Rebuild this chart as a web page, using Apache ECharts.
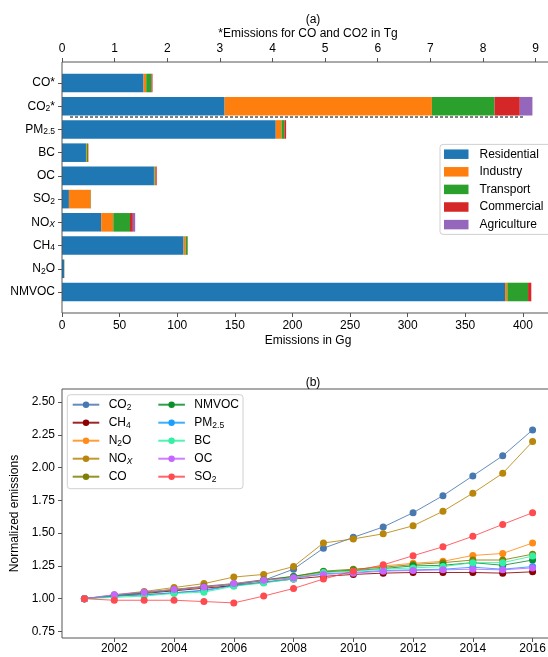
<!DOCTYPE html>
<html><head><meta charset="utf-8">
<script src="https://cdn.jsdelivr.net/npm/echarts@6.0.0/dist/echarts.min.js"></script>
<style>html,body{margin:0;padding:0;background:#fff}#c{width:548px;height:657px}</style>
</head><body><div id="c"></div>
<script>
// ---------- (a) sector emissions ----------
const sectors = ['Residential', 'Industry', 'Transport', 'Commercial', 'Agriculture'];
const sectorColors = ['#1f77b4', '#ff7f0e', '#2ca02c', '#d62728', '#9467bd'];
const barCategories = ['CO*', 'CO2*', 'PM2.5', 'BC', 'OC', 'SO2', 'NOx', 'CH4', 'N2O', 'NMVOC'];
// CO, CO2 in Tg (top axis)
const residentialTg = [1.55, 3.09];
const industryTg    = [0.05, 3.94];
const transportTg   = [0.10, 1.19];
const commercialTg  = [0.02, 0.48];
const agricultureTg = [0.00, 0.24];
// PM2.5, BC, OC, SO2, NOx, CH4, N2O, NMVOC in Gg (bottom axis)
const residentialGg = [185.5, 20.8, 79.8, 6.0, 34.0, 105.5, 1.9, 384.5];
const industryGg    = [5.0, 0.8, 0.6, 18.8, 10.5, 1.8, 0.1, 2.0];
const transportGg   = [2.5, 1.0, 0.8, 0.3, 14.5, 1.7, 0.1, 18.0];
const commercialGg  = [1.5, 0.3, 1.0, 0.1, 2.5, 0.2, 0.0, 2.8];
const agricultureGg = [0.0, 0.0, 0.0, 0.0, 2.0, 0.0, 0.0, 0.0];
const ggTicks = [0, 50, 100, 150, 200, 250, 300, 350, 400];
const tgTicks = [0, 1, 2, 3, 4, 5, 6, 7, 8, 9];

// ---------- (b) normalized trends ----------
const years = [2001,2002,2003,2004,2005,2006,2007,2008,2009,2010,2011,2012,2013,2014,2015,2016];
const yearTicks = [2002, 2004, 2006, 2008, 2010, 2012, 2014, 2016];
const normTicks = [0.75, 1.00, 1.25, 1.50, 1.75, 2.00, 2.25, 2.50];
const co2   = [1.00,1.02,1.03,1.045,1.065,1.105,1.14,1.225,1.385,1.468,1.547,1.656,1.786,1.937,2.09,2.288];
const ch4   = [1.00,1.02,1.04,1.06,1.08,1.10,1.125,1.15,1.17,1.185,1.195,1.20,1.20,1.20,1.195,1.205];
const n2o   = [1.00,1.02,1.045,1.07,1.09,1.11,1.14,1.16,1.20,1.22,1.25,1.27,1.285,1.33,1.345,1.425];
const nox   = [1.00,1.03,1.055,1.085,1.115,1.165,1.185,1.245,1.425,1.456,1.495,1.556,1.667,1.805,1.957,2.199];
const co    = [1.00,1.025,1.05,1.07,1.095,1.115,1.145,1.17,1.21,1.225,1.24,1.26,1.275,1.295,1.295,1.34];
const nmvoc = [1.00,1.02,1.045,1.065,1.09,1.11,1.14,1.17,1.205,1.215,1.23,1.25,1.255,1.275,1.255,1.295];
const pm25  = [1.00,1.02,1.03,1.045,1.06,1.10,1.125,1.155,1.19,1.20,1.215,1.22,1.225,1.24,1.225,1.245];
const bc    = [1.00,1.01,1.02,1.04,1.05,1.095,1.12,1.15,1.20,1.21,1.225,1.235,1.245,1.275,1.275,1.325];
const oc    = [1.00,1.03,1.05,1.07,1.09,1.115,1.14,1.16,1.185,1.195,1.21,1.215,1.22,1.225,1.22,1.235];
const so2   = [1.00,0.988,0.988,0.988,0.978,0.968,1.02,1.078,1.15,1.21,1.258,1.328,1.396,1.476,1.567,1.656];
const trendNames  = ['CO2','CH4','N2O','NOx','CO','NMVOC','PM2.5','BC','OC','SO2'];
const trendValues = [co2, ch4, n2o, nox, co, nmvoc, pm25, bc, oc, so2];
const trendColors = ['#4878b0','#8b0000','#ff8c1a','#b8860b','#808000','#0a8f2a','#1a9fff','#33f0a5','#c466ff','#ff4a50'];

const richText = {
  'CO*':'CO*', 'CO2*':'CO{s|2}*', 'PM2.5':'PM{s|2.5}', 'BC':'BC', 'OC':'OC', 'SO2':'SO{s|2}',
  'NOx':'NO{si|X}', 'CH4':'CH{s|4}', 'N2O':'N{s|2}O', 'NMVOC':'NMVOC', 'CO2':'CO{s|2}', 'CO':'CO'
};
const FONT = 'Liberation Sans, Arial, sans-serif';
const rich = {
  s:  {fontSize: 8.5, lineHeight: 7, verticalAlign: 'bottom', fontFamily: FONT, color: '#000'},
  si: {fontSize: 8.5, lineHeight: 7, verticalAlign: 'bottom', fontFamily: FONT, fontStyle: 'italic', color: '#000'}
};
const AX = '#555';

const nGg = residentialGg.length, nTg = residentialTg.length;
const blanks = k => Array(k).fill('-');
const tgSets = [residentialTg, industryTg, transportTg, commercialTg, agricultureTg];
const ggSets = [residentialGg, industryGg, transportGg, commercialGg, agricultureGg];

const series = [];
sectors.forEach((name, i) => {
  series.push({
    name, type: 'bar', stack: 'gg', xAxisIndex: 0, yAxisIndex: 0,
    barWidth: '80%', barGap: '-100%',
    itemStyle: {color: sectorColors[i]},
    data: blanks(nTg).concat(ggSets[i])
  });
});
sectors.forEach((name, i) => {
  series.push({
    name, type: 'bar', stack: 'tg', xAxisIndex: 1, yAxisIndex: 0,
    barWidth: '80%', barGap: '-100%',
    itemStyle: {color: sectorColors[i]},
    data: tgSets[i].concat(blanks(nGg))
  });
});
trendNames.forEach((name, i) => {
  series.push({
    name, type: 'line', xAxisIndex: 3, yAxisIndex: 2,
    symbol: 'circle', symbolSize: 7,
    itemStyle: {color: trendColors[i]},
    lineStyle: {width: 1, color: trendColors[i], opacity: 0.85},
    data: years.map((y, j) => [y, trendValues[i][j]])
  });
});

const tickLab = {fontSize: 12, color: '#000', fontFamily: FONT};

const option = {
  animation: false,
  backgroundColor: '#fff',
  textStyle: {fontFamily: FONT},
  title: [
    {text: '(a)', left: 308, top: 9, textAlign: 'center', textStyle: {fontSize: 12, fontWeight: 'normal', color: '#000', fontFamily: FONT}},
    {text: '(b)', left: 308, top: 372, textAlign: 'center', textStyle: {fontSize: 12, fontWeight: 'normal', color: '#000', fontFamily: FONT}}
  ],
  grid: [
    {left: 62, width: 492, top: 71.4, height: 232.2, containLabel: false, outerBoundsMode: 'none'},
    {left: 62, width: 492, top: 62, height: 251, show: true, borderColor: AX, borderWidth: 1, backgroundColor: 'transparent', z: 3, outerBoundsMode: 'none'},
    {left: 62, width: 493, top: 389, height: 249, show: true, borderColor: AX, borderWidth: 1, backgroundColor: 'transparent', outerBoundsMode: 'none'}
  ],
  xAxis: [
    {type: 'value', gridIndex: 0, position: 'bottom', offset: 9.4, min: 0, max: 427, interval: 50,
     axisLine: {show: false}, splitLine: {show: false},
     axisTick: {show: true, length: 4, lineStyle: {color: AX}, customValues: ggTicks},
     axisLabel: {...tickLab, margin: 7, customValues: ggTicks, formatter: v => (ggTicks.includes(v) ? String(v) : '')},
     name: 'Emissions in Gg', nameLocation: 'middle', nameGap: 22,
     nameTextStyle: {fontSize: 12, color: '#000', fontFamily: FONT}},
    {type: 'value', gridIndex: 0, position: 'top', offset: 9.4, min: 0, max: 9.35, interval: 1,
     axisLine: {show: false}, splitLine: {show: false},
     axisTick: {show: true, length: 4, lineStyle: {color: AX}, customValues: tgTicks},
     axisLabel: {...tickLab, margin: 7, customValues: tgTicks, formatter: v => (tgTicks.includes(v) ? String(v) : '')},
     name: '*Emissions for CO and CO2 in Tg', nameLocation: 'middle', nameGap: 22,
     nameTextStyle: {fontSize: 12, color: '#000', fontFamily: FONT}},
    {type: 'value', gridIndex: 1, show: false, min: 0, max: 1},
    {type: 'value', gridIndex: 2, min: 2000.25, max: 2016.75, splitNumber: 8,
     axisLine: {show: false}, splitLine: {show: false},
     axisTick: {show: true, length: 4, lineStyle: {color: AX}, customValues: yearTicks},
     axisLabel: {...tickLab, margin: 5, customValues: yearTicks, formatter: v => (yearTicks.includes(v) ? String(v) : '')}}
  ],
  yAxis: [
    {type: 'category', gridIndex: 0, inverse: true, data: barCategories,
     axisLine: {show: false}, splitLine: {show: false},
     axisTick: {show: true, alignWithLabel: true, length: 4, lineStyle: {color: AX}},
     axisLabel: {...tickLab, margin: 7, lineHeight: 14, rich, formatter: v => richText[v] || v}},
    {type: 'value', gridIndex: 1, show: false, min: 0, max: 1},
    {type: 'value', gridIndex: 2, min: 0.7, max: 2.6,
     axisLine: {show: false}, splitLine: {show: false},
     axisTick: {show: true, length: 4, lineStyle: {color: AX}, customValues: normTicks},
     axisLabel: {...tickLab, margin: 7, customValues: normTicks,
                 formatter: v => (normTicks.some(t => Math.abs(t - v) < 1e-9) ? v.toFixed(2) : '')},
     name: 'Normalized emissions', nameLocation: 'middle', nameGap: 29, nameRotate: 90,
     nameTextStyle: {fontSize: 12, color: '#000', fontFamily: FONT}}
  ],
  legend: [
    {data: sectors, orient: 'vertical', left: 444, top: 147.2, padding: 0, icon: 'rect',
     itemWidth: 24.5, itemHeight: 9.5, itemGap: 3.6, selectedMode: false,
     textStyle: {fontSize: 12, lineHeight: 14, color: '#000', fontFamily: FONT, padding: [0, 0, 0, 6]}},
    {data: trendNames.slice(0, 5), orient: 'vertical', left: 71.7, top: 397.7, padding: 0,
     itemWidth: 26.6, itemHeight: 8, itemGap: 4, selectedMode: false,
     formatter: n => richText[n] || n,
     textStyle: {fontSize: 12, lineHeight: 14, color: '#000', fontFamily: FONT, padding: [0, 0, 0, 4.4], rich}},
    {data: trendNames.slice(5), orient: 'vertical', left: 157.3, top: 397.7, padding: 0,
     itemWidth: 26.6, itemHeight: 8, itemGap: 4, selectedMode: false,
     formatter: n => richText[n] || n,
     textStyle: {fontSize: 12, lineHeight: 14, color: '#000', fontFamily: FONT, padding: [0, 0, 0, 4.4], rich}}
  ],
  graphic: [
    {type: 'rect', shape: {x: 440, y: 144.4, width: 112, height: 90, r: 3}, z: 1,
     style: {fill: '#fff', stroke: '#d0d0d0', lineWidth: 1}},
    {type: 'rect', shape: {x: 67.3, y: 394.7, width: 175.7, height: 94, r: 3}, z: 1,
     style: {fill: 'rgba(255,255,255,0.8)', stroke: '#d0d0d0', lineWidth: 1}},
    {type: 'line', shape: {x1: 70, y1: 117, x2: 524, y2: 117}, z: 5,
     style: {stroke: '#000', lineWidth: 1, lineDash: [3, 2]}}
  ],
  series
};
const chart = echarts.init(document.getElementById('c'), null, {renderer: 'canvas'});
chart.setOption(option);
</script></body></html>
